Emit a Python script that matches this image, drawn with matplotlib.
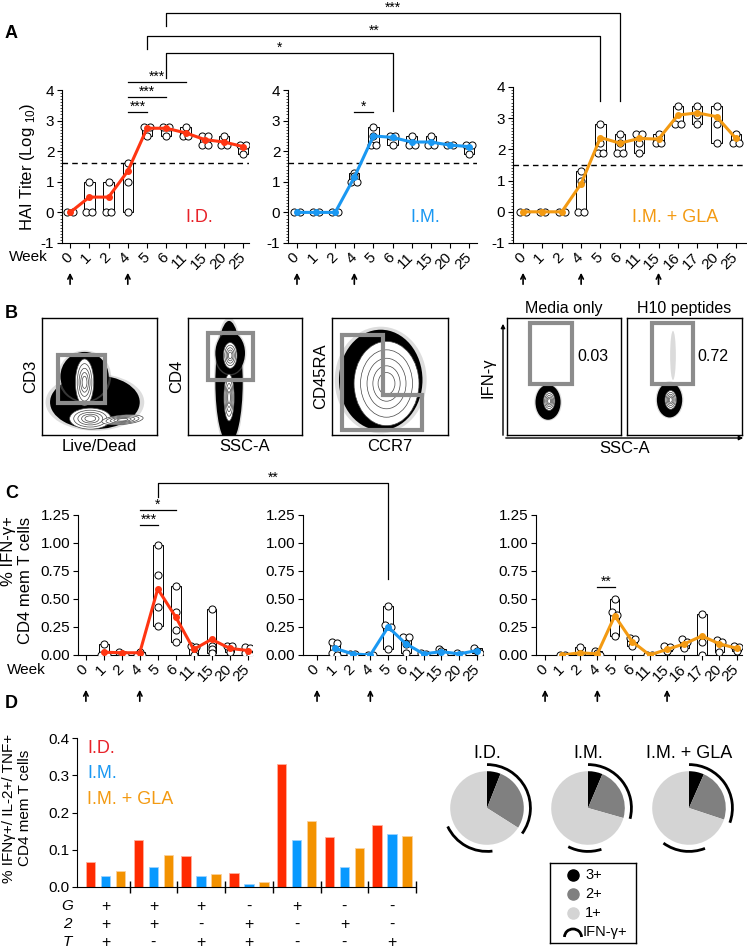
import matplotlib
matplotlib.use('Agg')
import matplotlib.pyplot as plt
import numpy as np
from matplotlib.patches import Rectangle, Ellipse, Polygon, Arc, FancyArrowPatch
from matplotlib.lines import Line2D
from matplotlib.ticker import MultipleLocator, FormatStrFormatter

plt.rcParams['font.family'] = ['Liberation Sans', 'DejaVu Sans']
plt.rcParams['mathtext.fontset'] = 'custom'
plt.rcParams['mathtext.rm'] = 'Liberation Sans'
plt.rcParams['axes.unicode_minus'] = False

W, H = 747, 951
RED = '#ff3512'
BLUE = '#1a98f2'
ORANGE = '#f39a12'
RED_TXT = '#e8232a'

# ---- panel A: HAI titers
weeks = ['0', '1', '2', '4', '5', '6', '11', '15', '20', '25']
weeks_gla = ['0', '1', '2', '4', '5', '6', '11', '15', '16', '17', '20', '25']

hai_id_mean = [0, 0.5, 0.5, 1.35, 2.75, 2.75, 2.6, 2.38, 2.3, 2.15]
hai_id_pts = [[0, 0], [1, 0, 0], [1, 0, 0], [1.6, 1.0, 0], [2.8, 2.8, 2.5], [2.8, 2.8, 2.5],
              [2.8, 2.5, 2.5], [2.5, 2.5, 2.2, 2.2], [2.5, 2.2, 2.2], [2.2, 2.2, 1.9]]
hai_im_mean = [0, 0, 0, 1.15, 2.5, 2.45, 2.3, 2.3, 2.2, 2.15]
hai_im_pts = [[0, 0], [0, 0], [0, 0], [1.3, 1.2, 1.0, 1.0], [2.8, 2.5, 2.2, 2.2], [2.5, 2.5, 2.2],
              [2.5, 2.2, 2.2], [2.5, 2.2, 2.2], [2.2, 2.2], [2.2, 2.2, 1.9]]
hai_gla_mean = [0, 0, 0, 0.9, 2.38, 2.2, 2.35, 2.33, 3.1, 3.17, 3.05, 2.35]
hai_gla_pts = [[0, 0], [0, 0], [0, 0], [1.3, 1.0, 0, 0], [2.8, 2.2, 1.9, 1.9], [2.5, 2.2, 1.9, 1.9],
               [2.5, 2.5, 2.2, 1.9], [2.5, 2.2, 2.2], [3.4, 2.8, 2.8], [3.4, 3.1, 2.8],
               [3.4, 2.8, 2.2], [2.5, 2.2, 2.2]]

# ---- panel C: % IFN-g+ CD4 memory T cells
ifn_id_mean = [np.nan, 0.025, 0.02, 0.02, 0.59, 0.34, 0.05, 0.14, 0.06, 0.04]
ifn_id_pts = [[], [0.10, 0.0, 0.0], [0.03, 0.01, 0.0], [0.03, 0.0, 0.0], [0.98, 0.71, 0.43, 0.26],
              [0.62, 0.38, 0.22, 0.12], [0.08, 0.07, 0.0], [0.41, 0.08, 0.05, 0.02],
              [0.08, 0.08, 0.03], [0.07, 0.06, 0.02, 0.0]]
ifn_im_mean = [np.nan, 0.06, 0.01, 0.0, 0.25, 0.10, 0.01, 0.03, 0.01, 0.04]
ifn_im_pts = [[], [0.12, 0.11, 0.02, 0.0], [0.01, 0.01], [0.0, 0.0], [0.44, 0.27, 0.25, 0.05],
              [0.16, 0.16, 0.10, 0.02], [0.02, 0.01], [0.05, 0.04, 0.02, 0.0], [0.02, 0.0],
              [0.06, 0.04, 0.02]]
ifn_gla_mean = [np.nan, 0.0, 0.02, 0.01, 0.35, 0.12, 0.0, 0.05, 0.10, 0.17, 0.10, 0.06]
ifn_gla_pts = [[], [0.0, 0.0], [0.07, 0.0], [0.04, 0.02, 0.0], [0.50, 0.38, 0.36, 0.17],
               [0.15, 0.14, 0.08], [0.0, 0.0], [0.08, 0.07, 0.04], [0.14, 0.12, 0.06],
               [0.37, 0.12, 0.0], [0.13, 0.12, 0.03], [0.08, 0.07, 0.04]]

# ---- panel D: polyfunctional bars + pies
bar_id = [0.066, 0.127, 0.083, 0.038, 0.330, 0.134, 0.166]
bar_im = [0.030, 0.055, 0.030, 0.009, 0.126, 0.055, 0.142]
bar_gla = [0.042, 0.086, 0.034, 0.014, 0.178, 0.106, 0.138]
row_g = ['+', '+', '+', '-', '+', '-', '-']
row_2 = ['+', '+', '-', '+', '-', '+', '-']
row_t = ['+', '-', '+', '+', '-', '-', '+']

pie_names = ['I.D.', 'I.M.', 'I.M. + GLA']
pie_3plus = [0.06, 0.064, 0.066]
pie_2plus = [0.28, 0.23, 0.235]
pie_arcs = [[(0.0, 0.35), (0.48, 0.68)], [(0.0, 0.29), (0.45, 0.575)], [(0.0, 0.305), (0.44, 0.60)]]

# ---- panel B: flow plots (ellipse sketches in axes units: cx, cy, w, h, angle)
flow_clouds = [
    [(0.46, 0.28, 0.78, 0.46, 0), (0.37, 0.50, 0.42, 0.42, 0)],
    [(0.36, 0.45, 0.24, 1.05, 0), (0.37, 0.70, 0.26, 0.36, 0)],
    [(0.42, 0.47, 0.72, 0.86, 0)],
    [(0.36, 0.28, 0.22, 0.30, 0)],
    [(0.37, 0.30, 0.22, 0.30, 0)],
]
flow_cores = [
    [(0.37, 0.45, 0.16, 0.40, 0), (0.42, 0.14, 0.36, 0.18, 0), (0.70, 0.13, 0.36, 0.08, 5)],
    [(0.37, 0.68, 0.12, 0.22, 0), (0.36, 0.32, 0.09, 0.40, 0)],
    [(0.47, 0.44, 0.56, 0.72, 0)],
    [(0.37, 0.29, 0.10, 0.16, 0)],
    [(0.38, 0.30, 0.10, 0.16, 0)],
]

fig = plt.figure(figsize=(W / 100, H / 100), dpi=100)


def ax_px(x0, y0, x1, y1):
    return fig.add_axes([x0 / W, 1 - y1 / H, (x1 - x0) / W, (y1 - y0) / H])


def fx(px):
    return px / W


def fy(py):
    return 1 - py / H


def data_fx(ax, xd):
    disp = ax.transData.transform((xd, 0))
    return fig.transFigure.inverted().transform(disp)[0]


def spread(vals, tol):
    offs = []
    for k, v in enumerate(vals):
        same = [j for j, u in enumerate(vals) if abs(u - v) <= tol]
        m = same.index(k)
        offs.append((m - (len(same) - 1) / 2) * 0.3)
    return np.array(offs)


def time_course(ax, labels, means, pts, color, tol):
    idx = np.arange(len(labels))
    for i, vals in enumerate(pts):
        if not vals:
            continue
        lo, hi = min(vals), max(vals)
        if hi > lo:
            ax.add_patch(Rectangle((i - 0.27, lo), 0.54, hi - lo, fc='white', ec='k', lw=0.7, zorder=2))
        ax.scatter(i + spread(vals, tol), vals, s=26, facecolor='white', edgecolor='k', lw=0.7, zorder=3)
    ax.plot(idx, means, color=color, lw=2.2, marker='o', ms=4, zorder=4)
    ax.spines[['top', 'right']].set_visible(False)
    ax.set_xticks(idx)
    ax.set_xticklabels(labels, rotation=45, ha='right', va='center', rotation_mode='anchor')
    ax.tick_params(length=3.5, width=0.8, labelsize=11, pad=2)
    ax.tick_params(axis='x', pad=5)


def line_fig(xs, ys, lw=0.9):
    fig.add_artist(Line2D(xs, ys, transform=fig.transFigure, color='k', lw=lw))


def sig_bar(ax, i0, i1, ypx, label):
    x0, x1 = data_fx(ax, i0), data_fx(ax, i1)
    line_fig([x0, x1], [fy(ypx)] * 2)
    fig.text((x0 + x1) / 2, fy(ypx - 1.5), label, ha='center', va='baseline', fontsize=10)


def bracket(axa, ia, ya, axb, ib, yb, ytop, label):
    xa, xb = data_fx(axa, ia), data_fx(axb, ib)
    line_fig([xa, xa, xb, xb], [fy(ya), fy(ytop), fy(ytop), fy(yb)])
    fig.text((xa + xb) / 2, fy(ytop - 1.5), label, ha='center', va='baseline', fontsize=10)


def up_arrow(ax, i, ybot, ytop):
    x = data_fx(ax, i)
    fig.add_artist(FancyArrowPatch((x, fy(ybot)), (x, fy(ytop)), transform=fig.transFigure,
                                   arrowstyle='->', mutation_scale=8, lw=1.2, color='k'))


# ================= panel A
a1 = ax_px(62, 90, 249, 243)
a2 = ax_px(288, 90, 477, 243)
a3 = ax_px(513, 87, 746, 243)
time_course(a1, weeks, hai_id_mean, hai_id_pts, RED, 0.05)
time_course(a2, weeks, hai_im_mean, hai_im_pts, BLUE, 0.05)
time_course(a3, weeks_gla, hai_gla_mean, hai_gla_pts, ORANGE, 0.05)
a1.set_xlim(-0.42, 9.3)
a2.set_xlim(-0.47, 9.42)
a3.set_xlim(-0.52, 11.52)
for ax, thr in [(a1, 1.6), (a2, 1.6), (a3, 1.5)]:
    ax.set_ylim(-1, 4)
    ax.set_yticks(range(-1, 5))
    ax.yaxis.set_minor_locator(MultipleLocator(0.1))
    ax.tick_params(axis='y', which='minor', length=1.8, width=0.5)
    ax.axhline(thr, ls=(0, (4, 3)), color='k', lw=1, zorder=1)
a1.set_ylabel('HAI Titer (Log $_{10}$)', fontsize=12, labelpad=3)
a1.text(6.7, -0.18, 'I.D.', color=RED_TXT, fontsize=13, ha='center', va='center')
a2.text(6.7, -0.18, 'I.M.', color=BLUE, fontsize=13, ha='center', va='center')
a3.text(7.85, -0.18, 'I.M. + GLA', color=ORANGE, fontsize=13, ha='center', va='center')

fig.text(fx(5), fy(33), 'A', fontsize=13, fontweight='bold', va='center')
fig.text(fx(9), fy(257), 'Week', fontsize=11, va='center')
for ax, arr in [(a1, [0, 3]), (a2, [0, 3]), (a3, [0, 3, 7])]:
    for i in arr:
        up_arrow(ax, i, 287, 270)

sig_bar(a1, 3, 4, 112, '***')
sig_bar(a1, 3, 5, 97, '***')
sig_bar(a1, 3, 6, 82, '***')
sig_bar(a2, 3, 4, 112, '*')
bracket(a1, 5, 78, a2, 5, 111, 53, '*')
bracket(a1, 4, 49, a3, 4, 101, 36, '**')
bracket(a1, 5, 26, a3, 5, 101, 13, '***')

# ================= panel B
fig.text(fx(5), fy(313), 'B', fontsize=13, fontweight='bold', va='center')
flow_boxes = [(42, 157), (188, 302), (332, 448), (507, 621), (627, 742)]
flow_axes = []
for k, (x0, x1) in enumerate(flow_boxes):
    ax = ax_px(x0, 318, x1, 435)
    ax.set_xlim(0, 1)
    ax.set_ylim(0, 1)
    ax.set_xticks([])
    ax.set_yticks([])
    for s in ax.spines.values():
        s.set_linewidth(1)
    for (cx, cy, w, h, ang) in flow_clouds[k]:
        ax.add_patch(Ellipse((cx, cy), w * 1.1, h * 1.06, angle=ang, fc='#a0a0a0', ec='none', alpha=0.35))
        ax.add_patch(Ellipse((cx, cy), w, h, angle=ang, fc='black', ec='none'))
    for (cx, cy, w, h, ang) in flow_cores[k]:
        for j, s in enumerate([1.0, 0.8, 0.6, 0.42, 0.26]):
            ax.add_patch(Ellipse((cx, cy), w * s, h * s, angle=ang, fc='white' if j == 0 else 'none',
                                 ec='#444444', lw=0.5))
    flow_axes.append(ax)

GATE = '#8c8c8c'
b1, b2, b3, b4, b5 = flow_axes
b1.add_patch(Rectangle((0.14, 0.27), 0.41, 0.41, fill=False, ec=GATE, lw=3))
b2.add_patch(Rectangle((0.175, 0.47), 0.395, 0.40, fill=False, ec=GATE, lw=3))
b3.add_patch(Polygon([(0.09, 0.855), (0.44, 0.855), (0.44, 0.34), (0.78, 0.34), (0.78, 0.045), (0.09, 0.045)],
                     closed=True, fill=False, ec=GATE, lw=3))
b4.add_patch(Rectangle((0.2, 0.44), 0.37, 0.52, fill=False, ec=GATE, lw=3))
b5.add_patch(Rectangle((0.22, 0.44), 0.355, 0.52, fill=False, ec=GATE, lw=3))
b5.add_patch(Ellipse((0.40, 0.68), 0.05, 0.42, fc='#c4c4c4', ec='none', alpha=0.6))
for ax, yl, xl in [(b1, 'CD3', 'Live/Dead'), (b2, 'CD4', 'SSC-A'), (b3, 'CD45RA', 'CCR7')]:
    ax.set_ylabel(yl, fontsize=12, labelpad=3)
    ax.set_xlabel(xl, fontsize=12, labelpad=3)
b4.text(0.75, 0.67, '0.03', fontsize=11.5, ha='center', va='center', transform=b4.transAxes)
b5.text(0.75, 0.67, '0.72', fontsize=11.5, ha='center', va='center', transform=b5.transAxes)
fig.text(fx(564), fy(309), 'Media only', fontsize=11.5, ha='center', va='center')
fig.text(fx(684), fy(309), 'H10 peptides', fontsize=11.5, ha='center', va='center')
fig.text(fx(488), fy(378), 'IFN-γ', fontsize=12, ha='center', va='center', rotation=90)
fig.text(fx(625), fy(449), 'SSC-A', fontsize=12, ha='center', va='center')
fig.add_artist(FancyArrowPatch((fx(503), fy(438)), (fx(503), fy(321)), transform=fig.transFigure,
                               arrowstyle='-|>', mutation_scale=6, lw=1, color='k'))
fig.add_artist(FancyArrowPatch((fx(503), fy(438)), (fx(746), fy(438)), transform=fig.transFigure,
                               arrowstyle='-|>', mutation_scale=6, lw=1, color='k'))

# ================= panel C
fig.text(fx(5), fy(493), 'C', fontsize=13, fontweight='bold', va='center')
c1 = ax_px(78, 515, 252, 655)
c2 = ax_px(303, 515, 483, 655)
c3 = ax_px(536, 515, 742, 655)
time_course(c1, weeks, ifn_id_mean, ifn_id_pts, RED, 0.025)
time_course(c2, weeks, ifn_im_mean, ifn_im_pts, BLUE, 0.025)
time_course(c3, weeks_gla, ifn_gla_mean, ifn_gla_pts, ORANGE, 0.025)
c1.set_xlim(-0.44, 9.25)
c2.set_xlim(-0.79, 9.34)
c3.set_xlim(-0.52, 11.3)
for ax in (c1, c2, c3):
    ax.set_ylim(0, 1.25)
    ax.set_yticks(np.arange(0, 1.26, 0.25))
    ax.yaxis.set_major_formatter(FormatStrFormatter('%.2f'))
fig.text(fx(17), fy(580), '% IFN-γ+\nCD4 mem T cells', fontsize=12, ha='center', va='center',
         rotation=90, multialignment='right', linespacing=1.1)
fig.text(fx(7), fy(670), 'Week', fontsize=11, va='center')
for ax, arr in [(c1, [0, 3]), (c2, [0, 3]), (c3, [0, 3, 7])]:
    for i in arr:
        up_arrow(ax, i, 704, 687)
sig_bar(c1, 3, 4, 525, '***')
sig_bar(c1, 3, 5, 510, '*')
sig_bar(c3, 3, 4, 587, '**')
bracket(c1, 4, 497, c2, 4, 579, 483, '**')

# ================= panel D bars
fig.text(fx(5), fy(703), 'D', fontsize=13, fontweight='bold', va='center')
d = ax_px(77, 738, 417, 887)
gx = np.arange(len(bar_id))
d.bar(gx - 0.315, bar_id, 0.2, color='#ff2a00', ec='#ffb09c', lw=0.6)
d.bar(gx, bar_im, 0.2, color='#0899ff', ec='#9cd3ff', lw=0.6)
d.bar(gx + 0.315, bar_gla, 0.2, color='#f39200', ec='#fbd19a', lw=0.6)
d.set_xlim(-0.6, 6.52)
d.set_ylim(0, 0.4)
d.set_yticks(np.arange(0, 0.41, 0.1))
d.yaxis.set_major_formatter(FormatStrFormatter('%.1f'))
d.set_xticks(np.arange(0.5, 6.6, 1))
d.set_xticklabels([])
d.spines[['top', 'right']].set_visible(False)
d.spines['bottom'].set_bounds(-0.6, 6.5)
d.tick_params(axis='y', length=3.5, width=0.8, labelsize=11, pad=2)
d.tick_params(axis='x', direction='inout', length=9, width=1)
d.text(0.03, 0.93, 'I.D.', color=RED_TXT, fontsize=13, transform=d.transAxes, va='center')
d.text(0.03, 0.76, 'I.M.', color=BLUE, fontsize=13, transform=d.transAxes, va='center')
d.text(0.03, 0.59, 'I.M. + GLA', color=ORANGE, fontsize=13, transform=d.transAxes, va='center')
fig.text(fx(17), fy(808), '% IFNγ+/ IL-2+/ TNF+\nCD4 mem T cells', fontsize=11, ha='center', va='center',
         rotation=90, linespacing=1.1)
for row, name, ypx in [(row_g, 'G', 906), (row_2, '2', 924), (row_t, 'T', 942)]:
    fig.text(fx(67), fy(ypx), name, fontsize=11, style='italic', ha='center', va='center')
    for k, sym in enumerate(row):
        fig.text(data_fx(d, k), fy(ypx), sym, fontsize=11.5, ha='center', va='center')

# ================= panel D pies
pie_cx = [487, 588, 689]
for k in range(3):
    cx, cy = pie_cx[k], 808
    pa = ax_px(cx - 46, cy - 46, cx + 46, cy + 46)
    pa.set_xlim(-1.38, 1.38)
    pa.set_ylim(-1.38, 1.38)
    pa.set_aspect('equal')
    pa.axis('off')
    fr = [pie_3plus[k], pie_2plus[k], 1 - pie_3plus[k] - pie_2plus[k]]
    pa.pie(fr, colors=['black', '#808080', '#d4d4d4'], startangle=90, counterclock=False, radius=1,
           wedgeprops=dict(lw=0))
    for (f0, f1) in pie_arcs[k]:
        pa.add_patch(Arc((0, 0), 2.36, 2.36, theta1=90 - f1 * 360, theta2=90 - f0 * 360, lw=2, color='k'))
    fig.text(fx(cx), fy(753), pie_names[k], fontsize=13, ha='center', va='center')

lg = ax_px(550, 863, 636, 943)
lg.set_xlim(0, 86)
lg.set_ylim(80, 0)
lg.set_xticks([])
lg.set_yticks([])
for s in lg.spines.values():
    s.set_linewidth(1)
for ypos, col, lab in [(12, 'black', '3+'), (31, '#808080', '2+'), (50, '#d4d4d4', '1+')]:
    lg.plot(23, ypos, 'o', ms=8, color=col)
    lg.text(35, ypos, lab, fontsize=10.5, va='center')
lg.add_patch(Arc((23, 74), 17, 16, theta1=180, theta2=360, lw=2, color='k'))
lg.text(33, 69, 'IFN-γ+', fontsize=10.5, va='center')

fig.savefig('out.png', dpi=100)
